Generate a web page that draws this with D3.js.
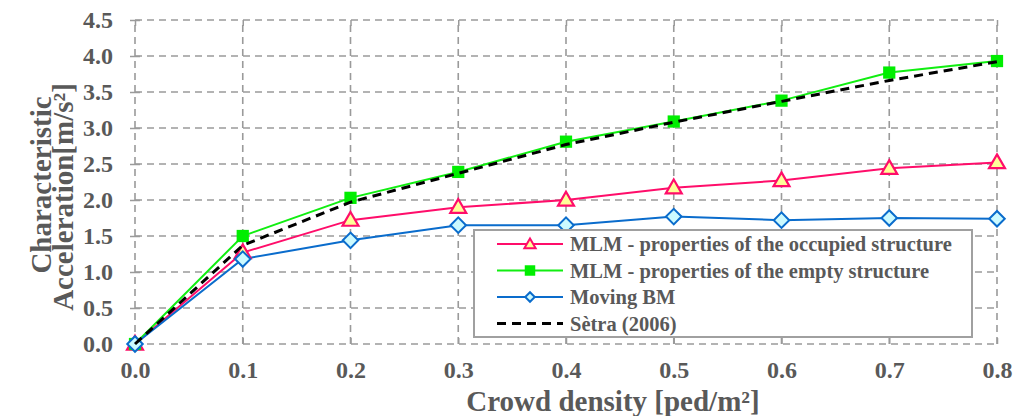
<!DOCTYPE html>
<html>
<head>
<meta charset="utf-8">
<script src="https://cdn.jsdelivr.net/npm/d3@7"></script>
<style>
	body { margin: 0; background: #ffffff; }
	svg text { font-family: "Liberation Serif", "Times New Roman", serif !important; font-weight: bold; fill: #595959; }
</style>
</head>
<body>
<div id="chart"></div>
<script>
// crowd density [ped/m2]
var density = [0.0, 0.1, 0.2, 0.3, 0.4, 0.5, 0.6, 0.7, 0.8];
// characteristic acceleration [m/s2]
var occupied = [0.0, 1.27, 1.72, 1.90, 2.00, 2.17, 2.27, 2.44, 2.52];
var empty = [0.0, 1.50, 2.03, 2.39, 2.81, 3.09, 3.38, 3.77, 3.93];
var movingBM = [0.0, 1.18, 1.44, 1.65, 1.65, 1.77, 1.72, 1.75, 1.74];
var setra = [0.0, 1.37, 1.97, 2.37, 2.77, 3.08, 3.37, 3.66, 3.92];
var yTicks = [0.0, 0.5, 1.0, 1.5, 2.0, 2.5, 3.0, 3.5, 4.0, 4.5];
var seriesNames = ["MLM - properties of the occupied structure", "MLM - properties of the empty structure", "Moving BM", "Sètra (2006)"];

var width = 1014, height = 416;
var margin = {top: 20, right: 17, bottom: 72, left: 135};

var svg = d3.select("#chart").append("svg")
	.attr("width", width)
	.attr("height", height);

var x = d3.scaleLinear().domain([0, 0.8]).range([margin.left, width - margin.right]);
var y = d3.scaleLinear().domain([0, 4.5]).range([height - margin.bottom, margin.top]);

// grid
var grid = svg.append("g");
grid.selectAll(".hgrid")
	.data(yTicks)
	.enter().append("line")
		.attr("x1", x(0)).attr("x2", x(0.8))
		.attr("y1", d => y(d)).attr("y2", d => y(d))
		.attr("stroke", "#9a9a9a").attr("stroke-width", 1.6)
		.attr("stroke-dasharray", "7,5");
grid.selectAll(".vgrid")
	.data(density)
	.enter().append("line")
		.attr("x1", d => x(d)).attr("x2", d => x(d))
		.attr("y1", y(0)).attr("y2", y(4.5))
		.attr("stroke", "#9a9a9a").attr("stroke-width", 1.6)
		.attr("stroke-dasharray", "7,5");

// axes (ticks only, labels bold serif)
var yAxis = d3.axisLeft(y).tickValues(yTicks).tickFormat(d3.format(".1f")).tickSize(5).tickPadding(17);
var yg = svg.append("g").attr("transform", "translate(" + x(0) + ",0)").call(yAxis);
yg.select(".domain").remove();
yg.selectAll(".tick line").attr("stroke", "#9a9a9a").attr("stroke-width", 1.5).attr("x2", 5).attr("x1", -5);
yg.selectAll("text").attr("font-size", "24px");

var xAxis = d3.axisBottom(x).tickValues(density).tickFormat(d3.format(".1f")).tickSize(-6).tickPadding(17);
var xg = svg.append("g").attr("transform", "translate(0," + y(0) + ")").call(xAxis);
xg.select(".domain").remove();
xg.selectAll(".tick line").attr("stroke", "#9a9a9a").attr("stroke-width", 1.5);
xg.selectAll("text").attr("font-size", "24px");

var xTop = d3.axisTop(x).tickValues(density).tickFormat("").tickSize(-6);
var xtg = svg.append("g").attr("transform", "translate(0," + y(4.5) + ")").call(xTop);
xtg.select(".domain").remove();
xtg.selectAll(".tick line").attr("stroke", "#9a9a9a").attr("stroke-width", 1.5);

// axis titles
svg.append("text")
	.attr("x", 613).attr("y", 411)
	.attr("text-anchor", "middle")
	.attr("font-size", "29px")
	.text("Crowd density [ped/m²]");

svg.append("text")
	.attr("transform", "translate(51,185) rotate(-90)")
	.attr("text-anchor", "middle")
	.attr("font-size", "29px")
	.text("Characteristic");
svg.append("text")
	.attr("transform", "translate(73,197) rotate(-90)")
	.attr("text-anchor", "middle")
	.attr("font-size", "29px")
	.text("Acceleration[m/s²]");

// lines
var line = d3.line().x((d, i) => x(density[i])).y(d => y(d));
var plot = svg.append("g");

plot.append("path").datum(occupied)
	.attr("d", line).attr("fill", "none")
	.attr("stroke", "#ff0d6a").attr("stroke-width", 2);
plot.append("path").datum(empty)
	.attr("d", line).attr("fill", "none")
	.attr("stroke", "#11ee11").attr("stroke-width", 2);
plot.append("path").datum(movingBM)
	.attr("d", line).attr("fill", "none")
	.attr("stroke", "#0a6ccc").attr("stroke-width", 2);

var triangle = d3.symbol().type(d3.symbolTriangle).size(110);
var square = d3.symbol().type(d3.symbolSquare).size(150);
var diamond = d3.symbol().type(d3.symbolSquare).size(120);

plot.selectAll(".tri")
	.data(occupied)
	.enter().append("path")
		.attr("class", "tri")
		.attr("d", triangle)
		.attr("transform", (d, i) => "translate(" + x(density[i]) + "," + (y(d) + 1) + ")")
		.attr("fill", "#ffff99").attr("stroke", "#ff0d6a").attr("stroke-width", 2.2);
plot.selectAll(".sq")
	.data(empty)
	.enter().append("path")
		.attr("class", "sq")
		.attr("d", square)
		.attr("transform", (d, i) => "translate(" + x(density[i]) + "," + y(d) + ")")
		.attr("fill", "#00ee00");
plot.selectAll(".dia")
	.data(movingBM)
	.enter().append("path")
		.attr("class", "dia")
		.attr("d", diamond)
		.attr("transform", (d, i) => "translate(" + x(density[i]) + "," + y(d) + ") rotate(45)")
		.attr("fill", "#ccfaff").attr("stroke", "#0a6ccc").attr("stroke-width", 2);

plot.append("path").datum(setra)
	.attr("d", line).attr("fill", "none")
	.attr("stroke", "#000000").attr("stroke-width", 3)
	.attr("stroke-dasharray", "9,6");

// legend
var legend = svg.append("g");
legend.append("rect")
	.attr("x", 474).attr("y", 230)
	.attr("width", 498).attr("height", 107)
	.attr("fill", "#ffffff")
	.attr("stroke", "#a0a0a0").attr("stroke-width", 2);

var legColors = ["#ff0d6a", "#11ee11", "#0a6ccc", "#000000"];
for (var i = 0; i < seriesNames.length; i++) {
	var ly = 244 + i * 26.5;
	legend.append("line")
		.attr("x1", 497).attr("x2", 563)
		.attr("y1", ly).attr("y2", ly)
		.attr("stroke", legColors[i])
		.attr("stroke-width", i == 3 ? 3 : 2)
		.attr("stroke-dasharray", i == 3 ? "9,6" : null);
	if (i == 0) {
		legend.append("path").attr("d", d3.symbol().type(d3.symbolTriangle).size(55))
			.attr("transform", "translate(530," + (ly + 1) + ")")
			.attr("fill", "#ffff99").attr("stroke", "#ff0d6a").attr("stroke-width", 2);
	} else if (i == 1) {
		legend.append("path").attr("d", d3.symbol().type(d3.symbolSquare).size(110))
			.attr("transform", "translate(530," + ly + ")")
			.attr("fill", "#00ee00");
	} else if (i == 2) {
		legend.append("path").attr("d", d3.symbol().type(d3.symbolSquare).size(45))
			.attr("transform", "translate(530," + ly + ") rotate(45)")
			.attr("fill", "#ccfaff").attr("stroke", "#0a6ccc").attr("stroke-width", 2);
	}
	legend.append("text")
		.attr("x", 570).attr("y", ly + 7)
		.attr("font-size", "20.5px")
		.text(seriesNames[i]);
}
</script>
</body>
</html>
